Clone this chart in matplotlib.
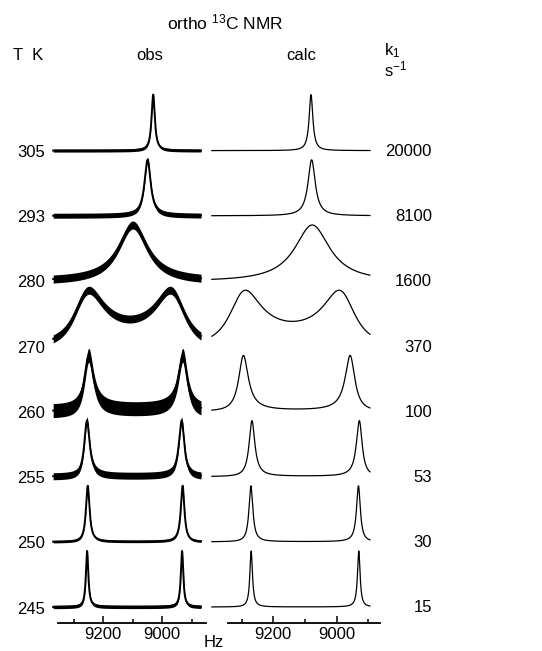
import numpy as np
import matplotlib
matplotlib.use("Agg")
import matplotlib.pyplot as plt

plt.rcParams['font.family'] = ['Liberation Sans', 'DejaVu Sans']
plt.rcParams['mathtext.fontset'] = 'custom'
plt.rcParams['mathtext.rm'] = 'Liberation Sans'
plt.rcParams['mathtext.it'] = 'Liberation Sans:italic'

# rows from top to bottom
temps = [305, 293, 280, 270, 260, 255, 250, 245]
k1 = [20000, 8100, 1600, 370, 100, 53, 30, 15]
# centre of the two sites (Hz) as the lines sit on the page
obs_centre = [9031, 9050, 9100, 9111, 9090, 9095, 9092, 9094]
calc_centre = [9081, 9079, 9077, 9140, 9126, 9098, 9101, 9100]
obs_split = 322.0   # Hz between the two sites
calc_split = 340.0
r2 = 16.0           # intrinsic relaxation, s-1
ticks_major = [9200, 9000]
ticks_minor = [9300, 9100, 8900]

# vertical width of the noise band on the observed traces (px)
obs_noise = [3, 5, 8, 8, 14, 7, 2.5, 3.5]


def exchange_shape(nu, centre, split, k):
    # two-site equal population exchange (Bloch-McConnell)
    na = centre + split / 2
    nb = centre - split / 2
    a = r2 + k - 2j * np.pi * (nu - na)
    d = r2 + k - 2j * np.pi * (nu - nb)
    g = 0.5 * (a + d + 2 * k) / (a * d - k * k)
    return g.real


W, H = 542, 651
fig = plt.figure(figsize=(W / 100, H / 100), dpi=100)


def box(x0, x1, y0, y1):
    return [x0 / W, 1 - y1 / H, (x1 - x0) / W, (y1 - y0) / H]


ax_obs = fig.add_axes(box(48, 206, 80, 623))
ax_calc = fig.add_axes(box(210, 382, 80, 623))

nu_obs = np.linspace(9370, 8869, 5000)
nu_calc = np.linspace(9394, 8895, 5000)
height = 56
step = 65.2

for j in range(len(temps)):
    base = 16 + (len(temps) - 1 - j) * step
    g = exchange_shape(nu_obs, obs_centre[j], obs_split, k1[j])
    y = base + height * g / g.max()
    b = obs_noise[j] / 2
    ax_obs.fill_between(nu_obs, y - b, y + b, color='black', lw=0)
    ax_obs.plot(nu_obs, y, color='black', lw=1.4)
    g = exchange_shape(nu_calc, calc_centre[j], calc_split, k1[j])
    ax_calc.plot(nu_calc, base + height * g / g.max(), color='black', lw=0.9)

ax_obs.set_xlim(9387.5, 8851.9)
ax_calc.set_xlim(9399.9, 8856.8)
ax_obs.spines['bottom'].set_bounds(9354, 8852)
ax_calc.spines['bottom'].set_bounds(9343, 8863)

for ax in [ax_obs, ax_calc]:
    ax.set_ylim(0, 543)
    ax.patch.set_visible(False)
    for s in ['top', 'left', 'right']:
        ax.spines[s].set_visible(False)
    ax.spines['bottom'].set_linewidth(1.3)
    ax.set_yticks([])
    ax.set_xticks(ticks_major)
    ax.set_xticks(ticks_minor, minor=True)
    ax.set_xticklabels([str(t) for t in ticks_major])
    ax.tick_params(axis='x', which='major', direction='in', length=5,
                   width=1.1, pad=3, labelsize=12)
    ax.tick_params(axis='x', which='minor', direction='in', length=3,
                   width=1.1)

# labels
fs = 12
fig.text(225 / W, 1 - 22 / H, r'ortho $^{13}$C NMR', ha='center', va='center', fontsize=12.5)
fig.text(13 / W, 1 - 56 / H, 'T  K', ha='left', va='center', fontsize=fs)
fig.text(150 / W, 1 - 56 / H, 'obs', ha='center', va='center', fontsize=fs)
fig.text(301 / W, 1 - 56 / H, 'calc', ha='center', va='center', fontsize=fs)
fig.text(384 / W, 1 - 51 / H, r'k$_1$', ha='left', va='center', fontsize=fs)
fig.text(384 / W, 1 - 69 / H, r's$^{-1}$', ha='left', va='center', fontsize=fs)

for j in range(len(temps)):
    py = 623 - (16 + (len(temps) - 1 - j) * step)
    fig.text(17 / W, 1 - (py + 2) / H, str(temps[j]), ha='left', va='center', fontsize=fs)
    fig.text(432 / W, 1 - (py + 1) / H, str(k1[j]), ha='right', va='center', fontsize=fs)

fig.text(214 / W, 1 / H, 'Hz', ha='center', va='bottom', fontsize=fs)

fig.savefig('out.png', dpi=100)
plt.close()
